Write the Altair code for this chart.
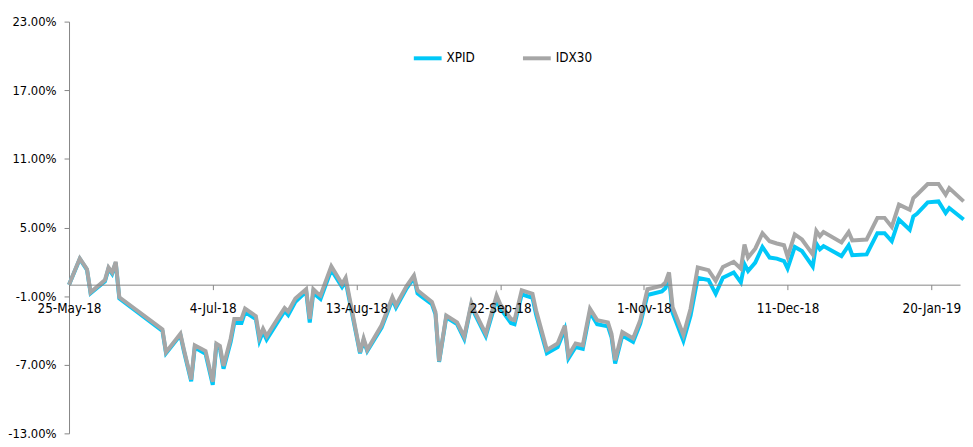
import altair as alt
import pandas as pd

# days since 25-May-2018
day_offsets = [0, 3, 5, 6, 10, 11, 12, 13, 14, 26, 27, 31, 32, 34, 35, 38, 40, 41, 42, 43,
               45, 46, 48, 49, 52, 53, 54, 55, 58, 60, 61, 63, 66, 67, 68, 69, 70, 73, 76, 77,
               81, 82, 83, 87, 90, 91, 94, 96, 97, 98, 101, 102, 103, 105, 108, 110, 112, 113, 116, 119,
               120, 123, 124, 126, 129, 130, 133, 136, 138, 139, 141, 143, 145, 147, 150, 151, 152, 154, 157, 159,
               161, 165, 166, 167, 168, 171, 173, 175, 178, 180, 182, 185, 187, 188, 189, 191, 193, 195, 197, 199,
               200, 202, 204, 207, 208, 209, 210, 215, 217, 218, 222, 225, 227, 229, 231, 234, 235, 236, 239, 242,
               244, 245, 249]

idx30 = [0, 2.3, 1.35, -0.67, 0.4, 1.5, 1.07, 2.0, -1.1, -3.9, -5.9, -4.3, -5.7, -8.3, -5.3, -5.8, -8.5, -5.15, -5.35, -7.1,
         -4.7, -3.0, -3.0, -2.1, -2.75, -4.6, -3.85, -4.5, -3.0, -2.05, -2.35, -1.2, -0.4, -3.0, -0.4, -0.7, -0.95, 1.6, 0.05, 0.6,
         -5.9, -4.7, -5.7, -3.55, -1.1, -1.8, -0.1, 0.8, -0.5, -0.75, -1.5, -2.4, -6.7, -2.7, -3.3, -4.55, -1.6, -2.4, -4.3, -0.95,
         -1.7, -3.0, -3.1, -0.5, -0.8, -2.25, -5.7, -5.15, -3.6, -6.2, -5.15, -5.3, -2.1, -3.1, -3.3, -4.3, -6.6, -4.15, -4.7, -3.1,
         -0.4, -0.1, 0.2, 1.07, -1.97, -4.4, -2.1, 1.5, 1.27, 0.34, 1.55, 2.0, 1.4, 3.5, 2.37, 3.15, 4.5, 3.8, 3.6, 3.45,
         2.45, 4.4, 3.95, 2.65, 4.7, 4.24, 4.6, 3.7, 4.6, 3.87, 3.95, 5.84, 5.84, 5.05, 7.0, 6.55, 7.57, 7.86, 8.8, 8.8,
         7.86, 8.44, 7.28]

xpid = [0, 2.25, 1.3, -0.75, 0.3, 1.4, 0.95, 1.9, -1.2, -4.05, -6.0, -4.4, -5.85, -8.45, -5.5, -6.05, -8.75, -5.4, -5.6, -7.35,
        -5.0, -3.35, -3.35, -2.4, -3.0, -4.9, -4.1, -4.8, -3.3, -2.3, -2.65, -1.5, -0.6, -3.3, -0.7, -1.0, -1.25, 1.3, -0.2, 0.3,
        -6.0, -4.85, -5.8, -3.75, -1.3, -2.0, -0.3, 0.6, -0.75, -1.0, -1.7, -2.6, -6.75, -2.85, -3.45, -4.75, -1.75, -2.6, -4.5, -1.3,
        -2.05, -3.35, -3.45, -0.85, -1.15, -2.6, -6.0, -5.45, -3.9, -6.45, -5.45, -5.6, -2.4, -3.45, -3.65, -4.6, -6.9, -4.45, -5.0, -3.4,
        -0.9, -0.6, -0.3, 0.6, -2.45, -4.9, -2.7, 0.6, 0.4, -0.8, 0.6, 1.07, 0.2, 1.8, 1.2, 1.93, 3.3, 2.37, 2.28, 2.07,
        1.41, 3.3, 2.94, 1.59, 3.6, 3.1, 3.37, 2.5, 3.43, 2.57, 2.65, 4.5, 4.5, 3.8, 5.7, 4.8, 5.97, 6.2, 7.2, 7.28,
        6.27, 6.7, 5.7]

series_names = ["XPID", "IDX30"]
series_colors = ["#00C8F8", "#A6A6A6"]
tick_dates = ["2018-05-25", "2018-07-04", "2018-08-13", "2018-09-22", "2018-11-01", "2018-12-11", "2019-01-20"]
y_ticks = [-13, -7, -1, 5, 11, 17, 23]

start = pd.Timestamp("2018-05-25")
dates = [start + pd.Timedelta(days=d) for d in day_offsets]

df = pd.concat([
    pd.DataFrame({"date": dates, "value": xpid, "series": "XPID"}),
    pd.DataFrame({"date": dates, "value": idx30, "series": "IDX30"}),
])

FONT = "DejaVu Sans Condensed, Liberation Sans, sans-serif"
W, H = 898, 415
y_min, y_max = -13, 23
zero_offset = -(H * (0 - y_min) / (y_max - y_min))

x_enc = alt.X(
    "date:T",
    scale=alt.Scale(domain=["2018-05-25T00:00:00", "2019-01-28T00:00:00"]),
    axis=alt.Axis(
        values=[pd.Timestamp(d).isoformat() for d in tick_dates],
        format="%-d-%b-%y",
        title=None,
        grid=False,
        offset=zero_offset,
        zindex=1,
        domainColor="#868686",
        tickColor="#868686",
        tickSize=5,
        labelPadding=12,
        labelFont=FONT,
        labelFontSize=13.5,
        labelColor="#000000",
        labelOverlap=False,
        labelFlush=False,
        labelBound=False,
    ),
)
y_enc = alt.Y(
    "value:Q",
    scale=alt.Scale(domain=[y_min, y_max], nice=False, zero=False),
    axis=alt.Axis(
        values=y_ticks,
        labelExpr="(datum.value < 0 ? '-' : '') + format(abs(datum.value), '.2f') + '%'",
        title=None,
        grid=False,
        domainColor="#868686",
        tickColor="#868686",
        tickSize=5,
        labelPadding=8,
        labelFont=FONT,
        labelFontSize=13,
        labelColor="#000000",
    ),
)
color_enc = alt.Color(
    "series:N",
    scale=alt.Scale(domain=series_names, range=series_colors),
    legend=alt.Legend(
        title=None,
        orient="none",
        direction="horizontal",
        legendX=345.5,
        legendY=21,
        symbolType="stroke",
        symbolSize=784,
        symbolStrokeWidth=4,
        labelFont=FONT,
        labelFontSize=13.5,
        labelColor="#000000",
        labelOffset=3,
        columnPadding=40,
        padding=0,
    ),
)

base = alt.Chart(df).mark_line(strokeWidth=4, strokeJoin="miter", clip=False).encode(
    x=x_enc, y=y_enc, color=color_enc
)
chart = alt.layer(
    base.transform_filter(alt.datum.series == "XPID"),
    base.transform_filter(alt.datum.series == "IDX30"),
).properties(
    width=W,
    height=H,
    autosize=alt.AutoSizeParams(type="none"),
    padding={"left": 61.5, "top": 12, "right": 5, "bottom": 8},
).configure_view(stroke=None)

chart.save("out.html", embed_options={"renderer": "svg", "actions": False})
